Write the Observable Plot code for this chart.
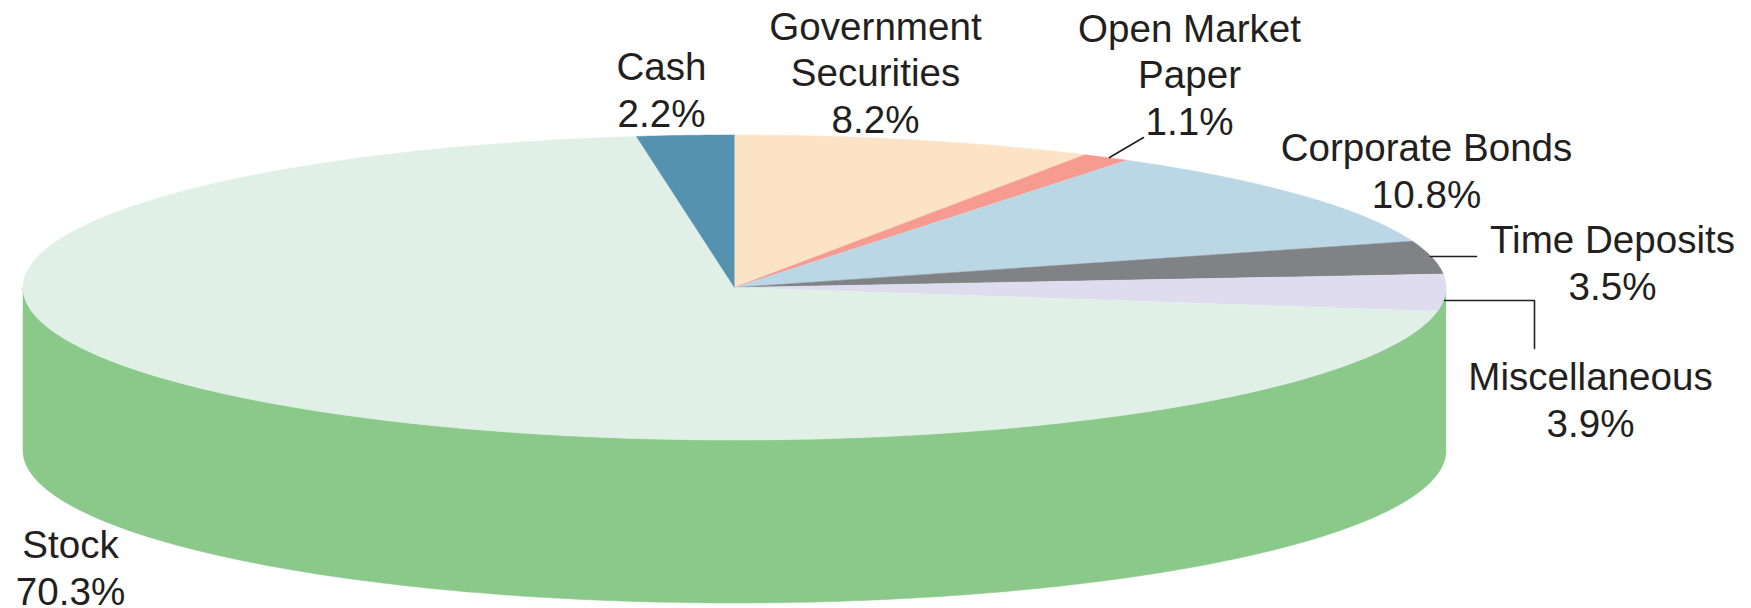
<!DOCTYPE html>
<html>
<head>
<meta charset="utf-8">
<script src="https://cdn.jsdelivr.net/npm/d3@7"></script>
<script src="https://cdn.jsdelivr.net/npm/@observablehq/plot@0.6"></script>
<style>
html,body{margin:0;padding:0;background:#fff;overflow:hidden}
svg{display:block;max-width:none}
</style>
</head>
<body>
<div id="chart"></div>
<script>
// Data, clockwise from the top of the pie
const categories = ["Government\nSecurities", "Open Market\nPaper", "Corporate Bonds", "Time Deposits", "Miscellaneous", "Stock", "Cash"];
const shares = [8.2, 1.1, 10.8, 3.5, 3.9, 70.3, 2.2];
const topColors = ["#fde3c6", "#f79a8f", "#bbd7e6", "#808285", "#dfdcef", "#e1f0e6", "#5492b0"];
const sideColor = "#8bc98b";

// Layout
const W = 1751, H = 608;
const pie = {cx: 734, cy: 287, rx: 711.5, ry: 152.5, depth: 163};
const labelAnchors = [[875, 132], [1189, 134], [1426, 207], [1612, 299], [1590, 436], [70, 604], [661, 126]];
const leaders = [
  [[1109, 157], [1143, 137]],
  [[1430, 256], [1476, 256]],
  [[1444, 300], [1534, 300], [1534, 348]]
];
const ink = "#231f20";

const onRim = (a, dy = 0) => ({x: pie.cx + pie.rx * Math.sin(a), y: pie.cy - pie.ry * Math.cos(a) + dy});
const rad = d3.scaleLinear().domain([0, 100]).range([0, 2 * Math.PI]);

// Top-face wedges built from the cumulative shares
let cum = 0;
const wedges = categories.flatMap((name, i) => {
  const a0 = rad(cum), a1 = rad(cum + shares[i]);
  cum += shares[i];
  const n = Math.max(4, Math.ceil(shares[i] * 6));
  const rim = d3.range(n + 1).map(k => onRim(a0 + (a1 - a0) * k / n));
  return [{x: pie.cx, y: pie.cy}, ...rim].map(p => ({...p, name, color: topColors[i]}));
});

// Visible side wall: the front half of the rim, extruded downward
const frontN = 240;
const front = d3.range(frontN + 1).map(k => Math.PI / 2 + Math.PI * k / frontN);
const side = [...front.map(a => onRim(a)), ...front.slice().reverse().map(a => onRim(a, pie.depth))];

const labels = categories.map((name, i) => ({
  text: `${name}\n${shares[i].toFixed(1)}%`,
  x: labelAnchors[i][0],
  y: labelAnchors[i][1]
}));
const leaderPts = leaders.flatMap((pts, id) => pts.map(([x, y]) => ({x, y, id})));

const chart = Plot.plot({
  width: W, height: H,
  margin: 0,
  style: {background: "#fff", overflow: "hidden"},
  x: {domain: [0, W], range: [0, W], axis: null},
  y: {domain: [0, H], range: [0, H], axis: null},
  marks: [
    Plot.line(side, {x: "x", y: "y", fill: sideColor, stroke: sideColor, strokeWidth: 0.5, curve: "linear"}),
    Plot.line(wedges, {x: "x", y: "y", z: "name", fill: "color", stroke: "color", strokeWidth: 0.5, curve: "linear"}),
    Plot.line(leaderPts, {x: "x", y: "y", z: "id", stroke: ink, strokeWidth: 1.6, curve: "linear", strokeLinejoin: "miter"}),
    Plot.text(labels, {
      x: "x", y: "y", text: "text",
      textAnchor: "middle", lineAnchor: "bottom", lineHeight: 1.2,
      fontFamily: "Liberation Sans", fontSize: 38.6, fill: ink
    })
  ]
});
document.getElementById("chart").append(chart);
</script>
</body>
</html>
